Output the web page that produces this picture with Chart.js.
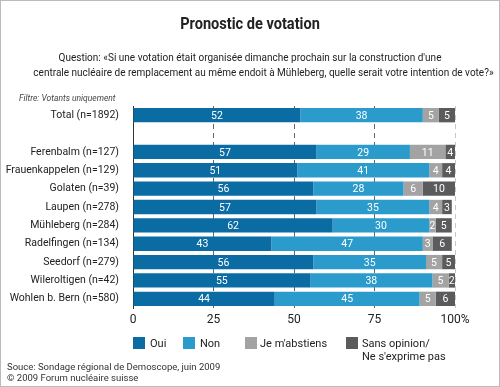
<!DOCTYPE html>
<html lang="fr">
<head>
<meta charset="UTF-8">
<title>Pronostic de votation</title>
<script src="https://cdn.jsdelivr.net/npm/chart.js"></script>
<style>
  body { margin: 0; }
  #wrap { position: relative; width: 500px; height: 387px; box-sizing: border-box; border: 1px solid #bbb; background: #fff; overflow: hidden;
          font-family: "Roboto", sans-serif; color: #222; }
  #wrap canvas { position: absolute; left: -1px; top: -1px; }
  .t { position: absolute; white-space: nowrap; }
  #title { left: 0; width: 498px; text-align: center; top: 13px; font-size: 16px; font-weight: bold; transform: scaleX(0.91); }
  #q { left: 0; width: 498px; text-align: center; top: 49px; font-size: 11.5px; line-height: 15px; transform: scaleX(0.87); }
  #filtre { left: 18px; top: 92px; font-size: 8.5px; font-style: italic; color: #444; }
  .sq { position: absolute; width: 12px; height: 12px; top: 336px; }
  .lg { top: 336px; font-size: 11px; line-height: 13px; }
  #src { left: 6px; top: 360px; font-size: 9.5px; line-height: 11px; color: #333; }
</style>
</head>
<body>
<div id="wrap">
  <canvas id="chart" width="500" height="387"></canvas>
  <div class="t" id="title">Pronostic de votation</div>
  <div class="t" id="q">Question: «Si une votation était organisée dimanche prochain sur la construction d'une<br>centrale nucléaire de remplacement au même endoit à Mühleberg, quelle serait votre intention de vote?»</div>
  <div class="t" id="filtre">Filtre: Votants uniquement</div>
  <div class="sq" style="left:132px;background:#0a6ca3"></div><div class="t lg" style="left:149px">Oui</div>
  <div class="sq" style="left:182px;background:#2b9bcb"></div><div class="t lg" style="left:199px">Non</div>
  <div class="sq" style="left:244px;background:#a3a3a3"></div><div class="t lg" style="left:259px">Je m'abstiens</div>
  <div class="sq" style="left:345px;background:#5b5b5d"></div><div class="t lg" style="left:361px">Sans opinion/<br>Ne s'exprime pas</div>
  <div class="t" id="src">Souce: Sondage régional de Demoscope, juin 2009<br>© 2009 Forum nucléaire suisse</div>
</div>
<script>
const categories = ['Total (n=1892)', '', 'Ferenbalm (n=127)', 'Frauenkappelen (n=129)', 'Golaten (n=39)', 'Laupen (n=278)',
  'Mühleberg (n=284)', 'Radelfingen (n=134)', 'Seedorf (n=279)', 'Wileroltigen (n=42)', 'Wohlen b. Bern (n=580)'];
const oui = [52, null, 57, 51, 56, 57, 62, 43, 56, 55, 44];
const non = [38, null, 29, 41, 28, 35, 30, 47, 35, 38, 45];
const abstiens = [5, null, 11, 4, 6, 4, 2, 3, 5, 5, 5];
const sansOpinion = [5, null, 4, 4, 10, 3, 5, 6, 5, 2, 6];
const xTicks = [0, 25, 50, 75, 100];

const font = '"Roboto", sans-serif';

const barLabels = {
  id: 'barLabels',
  afterDatasetsDraw(chart) {
    const ctx = chart.ctx;
    const right = chart.chartArea.right;
    ctx.save();
    ctx.fillStyle = '#fff';
    ctx.font = '10.5px ' + font;
    ctx.textAlign = 'center';
    ctx.textBaseline = 'middle';
    chart.data.datasets.forEach((ds, i) => {
      chart.getDatasetMeta(i).data.forEach((bar, j) => {
        const v = ds.data[j];
        if (v == null) return;
        const x1 = Math.min(bar.base, right), x2 = Math.min(bar.x, right);
        ctx.fillText(String(v), (x1 + x2) / 2, bar.y + 1);
      });
    });
    ctx.restore();
  }
};

function ds(label, data, color) {
  return { label, data, backgroundColor: color, borderWidth: 0, categoryPercentage: 1, barPercentage: 0.78 };
}

new Chart(document.getElementById('chart'), {
  type: 'bar',
  data: {
    labels: categories,
    datasets: [
      ds('Oui', oui, '#0a6ca3'),
      ds('Non', non, '#2b9bcb'),
      ds("Je m'abstiens", abstiens, '#a3a3a3'),
      ds("Sans opinion/Ne s'exprime pas", sansOpinion, '#5b5b5d')
    ]
  },
  options: {
    indexAxis: 'y',
    responsive: false,
    animation: false,
    layout: { padding: { top: 106, right: 45, left: 0, bottom: 0 } },
    plugins: { legend: { display: false }, tooltip: { enabled: false } },
    scales: {
      x: {
        stacked: true, min: 0, max: 100,
        afterBuildTicks: s => { s.ticks = xTicks.map(v => ({ value: v })); },
        afterFit: s => { s.height = 79; },
        grid: { drawTicks: false, color: c => c.tick.value === 100 ? '#c8c8c8' : '#666', lineWidth: 1 },
        border: { display: false, dash: [5, 4] },
        ticks: { padding: 5, color: '#222', font: { family: font, size: 12 },
          callback: v => v === 100 ? '100%' : v }
      },
      y: {
        stacked: true,
        afterFit: s => { s.width = 133; },
        grid: { display: false },
        border: { display: true, color: '#333', width: 1 },
        ticks: { padding: 6, color: '#222', font: { family: font, size: 10.5 } }
      }
    }
  },
  plugins: [barLabels]
});
</script>
</body>
</html>
